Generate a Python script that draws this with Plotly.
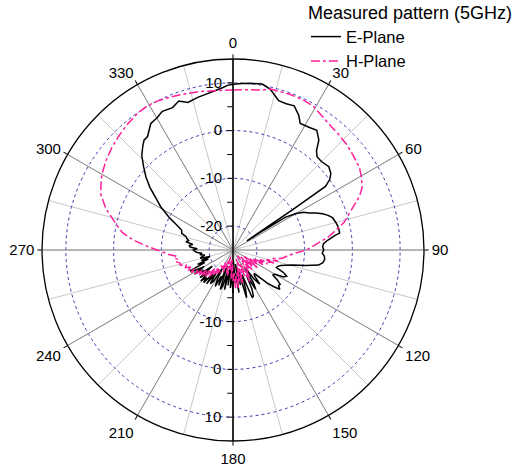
import plotly.graph_objects as go

# ---------------- data (angles in degrees, gain in dB) ----------------
E_theta = [0, 3, 6, 10, 13, 15, 17, 20, 23, 26, 28, 32, 35, 38, 40, 42, 45, 49, 52, 54, 55.5, 56, 56.5, 57, 58,
           60, 62, 64, 66, 68, 70, 72, 75, 77, 79, 81, 82, 84, 86, 88,
           90, 92, 94, 96, 98, 100, 102, 104, 106, 108, 110, 112, 114, 116, 118, 120, 122, 124, 126, 128,
           130, 132, 134, 136, 138, 140, 142, 144, 146, 148, 150, 152, 154, 156, 158, 160, 162, 164, 166, 168,
           170, 172, 174, 176, 178, 180, 182, 184, 186, 188, 190, 192, 194, 196, 198, 200, 202, 204, 206, 208,
           210, 212, 214, 216, 218, 220, 222, 224, 226, 228, 230, 232, 234, 236, 238, 240, 242, 244, 246, 248,
           250, 252, 254, 256, 258, 260, 262, 264, 266, 268, 270, 272, 274, 276, 278, 280, 282, 284, 286, 288,
           291, 294, 297, 301, 304, 307, 310, 313, 316, 319, 321, 323, 327, 330, 333, 337, 340, 343, 347, 350,
           353, 356.5, 358, 360]
E_r = [9.7, 9.9, 10.1, 10.3, 9.6, 8.6, 7.7, 7.6, 7.8, 6.4, 5.0, 5.25, 5.6, 4.2, 2.2, 1.3, 1.2, 1.6, 1.0, 0.0, -1.5, -10.0, -21.5, -18.0, -12.0,
       -9.7, -8.2, -7.3, -6.0, -4.75, -3.8, -3.1, -2.7, -2.5, -2.4, -2.4, -3.5, -5.0, -6.0, -6.2,
       -6.0, -6.3, -5.8, -5.7, -6.0, -6.8, -9.5, -12.0, -13.5, -14.5, -15.0, -15.2, -13.5, -12.5, -13.0, -14.8, -15.2, -13.8, -12.8, -12.9,
       -12.2, -13.5, -15.0, -17.0, -18.4, -18.0, -15.9, -17.5, -20.5, -17.0, -15.5, -19.0, -16.0, -14.5, -14.2, -19.5, -16.5, -14.6, -21.0, -17.5,
       -22.0, -16.0, -20.0, -18.0, -23.0, -16.0, -19.5, -17.0, -22.5, -17.5, -21.0, -16.5, -20.0, -17.0, -16.3, -21.5, -17.0, -19.0, -16.5, -18.0,
       -20.5, -17.3, -16.5, -19.0, -16.0, -18.5, -15.8, -17.0, -15.6, -18.0, -16.0, -19.5, -16.5, -17.5, -15.5, -18.0, -15.5, -15.0, -18.5, -17.0,
       -19.5, -18.0, -20.0, -17.9, -18.5, -19.0, -18.0, -18.5, -17.5, -17.0, -16.7, -17.5, -16.0, -15.8, -16.5, -15.0, -15.5, -15.0, -14.8, -13.7,
       -13.5, -12.1, -10.0, -7.3, -5.5, -3.2, -1.2, 0.6, 2.5, 3.8, 4.6, 4.75, 6.6, 6.9, 7.6, 7.4, 8.2, 7.3, 7.8, 8.1,
       8.5, 9.1, 9.5, 9.7]

H_theta = [0, 5, 10, 13, 20, 25, 29, 33, 37, 42, 47, 52, 57, 60, 64, 67, 69, 72, 76, 79, 82, 86, 90, 93, 96, 99,
           100, 102, 104, 106, 108, 110, 112, 114, 116, 118, 120, 122, 124, 126, 128, 130, 132, 134, 136, 138,
           140, 142, 144, 146, 148, 150, 152, 154, 156, 158, 160, 162, 164, 166, 168, 170, 172, 174, 176, 178,
           180, 182, 184, 186, 188, 190, 192, 194, 196, 198, 200, 202, 204, 206, 208, 210, 212, 214, 216, 218,
           220, 222, 224, 226, 228, 230, 232, 234, 236, 238, 240, 242, 244, 246, 248, 250, 252, 254, 256, 258,
           260, 262, 264, 266, 268, 270, 273, 276, 279, 283, 288, 293, 297, 300, 305, 310, 315, 320, 325, 329,
           333, 338, 343, 348, 353, 357, 360]
H_r = [8.5, 8.7, 9.0, 9.6, 9.7, 9.7, 9.5, 8.8, 8.2, 7.8, 7.5, 7.0, 6.6, 6.0, 5.1, 3.8, 2.5, 0.8, -1.0, -3.0, -4.7, -7.5, -9.6, -12.0, -13.5, -14.4,
       -14.8, -16.5, -15.2, -18.0, -16.0, -19.0, -17.2, -20.5, -18.0, -21.0, -19.0, -22.5, -20.0, -18.5, -21.5, -19.5, -23.0, -20.5, -19.0, -22.0,
       -20.0, -23.5, -19.5, -21.0, -18.5, -20.0, -17.5, -22.0, -19.0, -21.0, -23.0, -19.0, -17.5, -21.5, -18.0, -20.5, -17.0, -19.5, -16.7, -20.5,
       -18.5, -22.0, -19.0, -23.0, -20.5, -22.5, -19.5, -21.5, -20.0, -23.5, -21.0, -22.5, -20.0, -21.5, -19.5, -22.0, -20.5, -19.0, -21.0, -18.5,
       -20.0, -17.5, -19.5, -17.0, -18.5, -16.5, -18.0, -16.0, -17.5, -15.5, -16.5, -15.0, -16.0, -14.5, -15.5, -14.0, -14.8, -13.5, -13.6, -13.0,
       -13.5, -12.5, -12.9, -11.5, -10.5, -9.1, -6.5, -3.8, -1.5, 0.3, 3.0, 5.1, 6.0, 6.7, 7.5, 8.2, 8.8, 9.4, 9.9, 10.1,
       10.0, 9.6, 9.2, 8.9, 8.6, 8.5, 8.5]

angle_ticks = list(range(0, 360, 30))
angle_labels = [str(a) for a in angle_ticks]
radial_range = [-25, 15]
up_ticks = [-20, -15, -10, -5, 0, 5, 10]
up_labels = ["-20", "", "-10", "", "0", "", "10"]
down_ticks = [-15, -10, -5, 0, 5, 10]
down_labels = ["", "-10", "", "0", "", "10"]

FONT = "Liberation Sans, Arial, sans-serif"
dom = dict(x=[0, 1], y=[0, 1])

fig = go.Figure()
# invisible anchors so that the grid-only subplots get drawn
for sp in ["polar", "polar2"]:
    fig.add_trace(go.Scatterpolar(theta=[0], r=[radial_range[0]], subplot=sp, mode="markers",
                                  marker=dict(size=1, opacity=0), showlegend=False, hoverinfo="skip"))
fig.add_trace(go.Scatterpolar(theta=E_theta, r=E_r, name="E-Plane", subplot="polar3", mode="lines",
                              line=dict(color="black", width=1.5)))
fig.add_trace(go.Scatterpolar(theta=H_theta, r=H_r, name="H-Plane", subplot="polar3", mode="lines",
                              line=dict(color="#ff1f9a", width=1.5, dash="dashdot")))

fig.update_layout(
    width=514, height=467,
    margin=dict(l=42, r=90, t=59, b=26, autoexpand=False),
    paper_bgcolor="white",
    font=dict(family=FONT, color="black", size=15),
    showlegend=True,
    legend=dict(x=0.691, y=1.165, xanchor="left", yanchor="top",
                title=dict(text="Measured pattern (5GHz)", font=dict(size=18)),
                font=dict(size=16.5), bgcolor="rgba(0,0,0,0)", tracegroupgap=0),
    polar=dict(
        domain=dom, bgcolor="white",
        angularaxis=dict(rotation=90, direction="clockwise", tickmode="linear", tick0=0, dtick=15,
                         showgrid=True, gridcolor="#c8c8c8", gridwidth=1,
                         showticklabels=False, ticks="", showline=False),
        radialaxis=dict(range=radial_range, tickvals=[-20, -10, 0, 10], showgrid=True,
                        gridcolor="#3a3ab0", griddash="dot", gridwidth=1,
                        showticklabels=False, ticks="", showline=False),
    ),
    polar2=dict(
        domain=dom, bgcolor="rgba(0,0,0,0)",
        angularaxis=dict(rotation=90, direction="clockwise", tickmode="array",
                         tickvals=angle_ticks, ticktext=angle_labels,
                         showgrid=True, gridcolor="#8a8a8a", gridwidth=1,
                         ticks="outside", ticklen=4, tickcolor="black",
                         showline=True, linecolor="black", linewidth=1.3,
                         tickfont=dict(size=15, color="black")),
        radialaxis=dict(range=radial_range, angle=270, tickangle=-90, tickmode="array",
                        tickvals=down_ticks, ticktext=down_labels, showgrid=False,
                        showline=True, linecolor="black", linewidth=1.5,
                        ticks="outside", ticklen=5, tickcolor="black", side="clockwise",
                        tickfont=dict(size=15, color="black")),
    ),
    polar3=dict(
        domain=dom, bgcolor="rgba(0,0,0,0)",
        angularaxis=dict(rotation=90, direction="clockwise", showgrid=False,
                         showticklabels=False, ticks="", showline=False),
        radialaxis=dict(range=radial_range, angle=90, tickangle=90, tickmode="array",
                        tickvals=up_ticks, ticktext=up_labels, showgrid=False,
                        showline=True, linecolor="black", linewidth=1.5,
                        ticks="outside", ticklen=5, tickcolor="black", side="counterclockwise",
                        tickfont=dict(size=15, color="black")),
    ),
)

fig.write_html("out.html", config={"displayModeBar": False},
               post_script="document.body.style.margin='0';document.body.style.overflow='hidden';")
